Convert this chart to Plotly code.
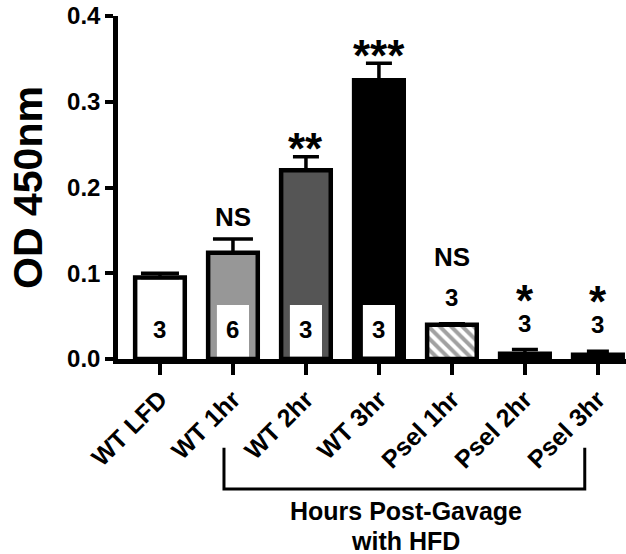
import plotly.graph_objects as go

categories = ["WT LFD", "WT 1hr", "WT 2hr", "WT 3hr", "Psel 1hr", "Psel 2hr", "Psel 3hr"]
means = [0.095, 0.124, 0.220, 0.325, 0.040, 0.006, 0.005]
sem = [0.005, 0.016, 0.016, 0.020, 0.001, 0.005, 0.004]
n_labels = ["3", "6", "3", "3", "3", "3", "3"]
sig_labels = ["", "NS", "**", "***", "NS", "*", "*"]
fill_colors = ["white", "#979797", "#555555", "black", "white", "black", "black"]
patterns = ["", "", "", "", "\\", "", ""]

x = list(range(len(categories)))
FONT = "Liberation Sans, Arial, sans-serif"
STAR = 44

fig = go.Figure()
fig.add_trace(go.Bar(
    x=x, y=means, width=0.68,
    marker=dict(color=fill_colors, line=dict(color="black", width=4.5),
                pattern=dict(shape=patterns, fgcolor="black", size=8, solidity=0.5)),
    showlegend=False, hoverinfo="skip"))

# white count boxes inside bars 1-3
box_idx = [1, 2, 3]
fig.add_trace(go.Bar(
    x=[x[i] for i in box_idx], y=[0.060] * len(box_idx), base=[0.003] * len(box_idx),
    width=0.44, marker=dict(color="white", line=dict(width=0)),
    showlegend=False, hoverinfo="skip"))

# error bars (upward only)
caps = [19, 20, 13, 13, 13, 13, 11]
for i in x:
    fig.add_trace(go.Scatter(
        x=[x[i]], y=[means[i]], mode="markers",
        marker=dict(size=1, color="rgba(0,0,0,0)"),
        error_y=dict(type="data", symmetric=False, array=[sem[i]], arrayminus=[0],
                     color="black", thickness=3.5, width=caps[i]),
        showlegend=False, hoverinfo="skip"))

ann = []
for i in x:
    top = means[i] + sem[i]
    star = "*" in sig_labels[i]
    if i < 4:
        ann.append(dict(x=x[i], y=0.034, text="<b>%s</b>" % n_labels[i], showarrow=False,
                        font=dict(size=24, color="black", family=FONT)))
        if sig_labels[i]:
            ann.append(dict(x=x[i], y=top, text="<b>%s</b>" % sig_labels[i], showarrow=False,
                            yanchor="middle", yshift=8 if star else 22,
                            font=dict(size=STAR if star else 26, color="black", family=FONT)))
    elif star:
        txt = ("<b><span style='font-size:%dpx'>%s</span><br>"
               "<span style='font-size:24px'>%s</span></b>") % (STAR, sig_labels[i], n_labels[i])
        ann.append(dict(x=x[i], y=top, text=txt, showarrow=False,
                        yanchor="bottom", yshift=11,
                        font=dict(size=12, color="black", family=FONT)))
    else:
        ann.append(dict(x=x[i], y=top, text="<b>%s</b>" % n_labels[i], showarrow=False,
                        yanchor="middle", yshift=26,
                        font=dict(size=24, color="black", family=FONT)))
        ann.append(dict(x=x[i], y=top, text="<b>%s</b>" % sig_labels[i], showarrow=False,
                        yanchor="middle", yshift=67,
                        font=dict(size=26, color="black", family=FONT)))

ann.append(dict(x=3.37, y=-0.443, xref="x", yref="paper",
                text="<b>Hours Post-Gavage</b>", showarrow=False, yanchor="middle",
                font=dict(size=25, color="black", family=FONT)))
ann.append(dict(x=3.37, y=-0.53, xref="x", yref="paper",
                text="<b>with HFD</b>", showarrow=False, yanchor="middle",
                font=dict(size=25, color="black", family=FONT)))

shapes = [dict(type="path", xref="x", yref="paper",
               path="M 0.877 -0.259 L 0.877 -0.379 L 5.82 -0.379 L 5.82 -0.259",
               line=dict(color="black", width=3))]

fig.update_layout(
    width=626, height=554,
    margin=dict(l=118, r=0, t=16, b=195),
    paper_bgcolor="white", plot_bgcolor="white",
    barmode="overlay",
    annotations=ann, shapes=shapes,
    font=dict(family=FONT, color="black"),
    xaxis=dict(range=[-0.575, 6.385], tickvals=x,
               ticktext=["<b>%s</b>" % c for c in categories],
               tickangle=-45, tickfont=dict(size=25, family=FONT, color="black"),
               showline=True, linecolor="black", linewidth=4.5,
               ticks="outside", ticklen=11, tickwidth=4, tickcolor="black",
               showgrid=False, zeroline=False, fixedrange=True),
    yaxis=dict(range=[0, 0.4], tickvals=[0, 0.1, 0.2, 0.3, 0.4],
               ticktext=["<b>0.0</b>", "<b>0.1</b>", "<b>0.2</b>", "<b>0.3</b>", "<b>0.4</b>"],
               tickfont=dict(size=24, family=FONT, color="black"),
               showline=True, linecolor="black", linewidth=4.5,
               ticks="outside", ticklen=8, tickwidth=4, tickcolor="black",
               showgrid=False, zeroline=False, fixedrange=True,
               title=dict(text="<b>OD 450nm</b>", font=dict(size=41, family=FONT, color="black"),
                          standoff=13)),
)

fig.write_html("out.html")
